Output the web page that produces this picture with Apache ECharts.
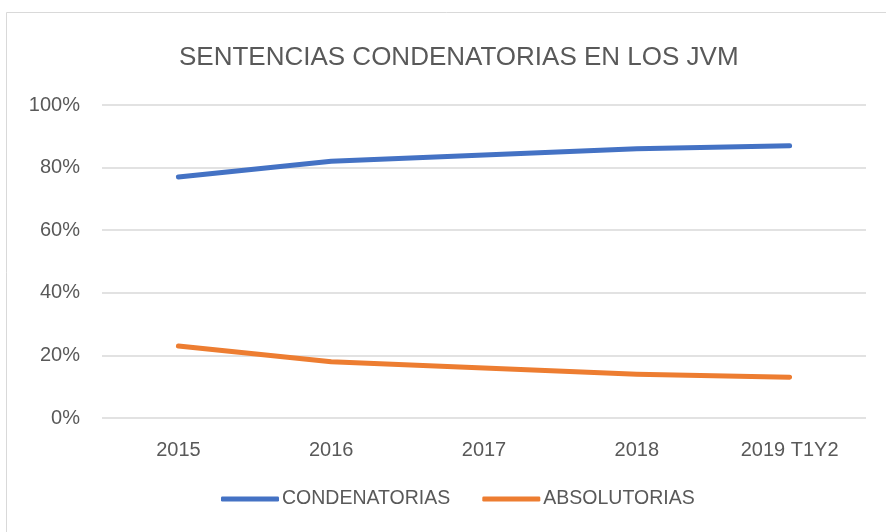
<!DOCTYPE html>
<html>
<head>
<meta charset="utf-8">
<script src="https://cdn.jsdelivr.net/npm/echarts@6/dist/echarts.min.js"></script>
<style>
  html, body { margin: 0; padding: 0; background: #fff; }
  #main { width: 886px; height: 532px; }
</style>
</head>
<body>
<div id="main"></div>
<script>
// datos
const years = ['2015', '2016', '2017', '2018', '2019 T1Y2'];
const condenatorias = [77, 82, 84, 86, 87];
const absolutorias = [23, 18, 16, 14, 13];
const yTicks = [0, 20, 40, 60, 80, 100];

const FONT = '"Liberation Sans", sans-serif';
const grey = '#595959';

const chart = echarts.init(document.getElementById('main'));

const options = {
  animation: false,
  backgroundColor: '#fff',
  textStyle: { fontFamily: FONT },
  title: {
    text: 'SENTENCIAS CONDENATORIAS EN LOS JVM',
    left: 174,
    top: 40,
    textStyle: { color: grey, fontSize: 26, fontWeight: 'normal', fontFamily: FONT }
  },
  graphic: [{
    type: 'rect',
    shape: { x: 6.5, y: 12.5, width: 900, height: 540 },
    style: { fill: 'none', stroke: '#d9d9d9', lineWidth: 1 },
    silent: true
  }],
  legend: {
    bottom: 18,
    left: 216,
    itemWidth: 58,
    itemHeight: 5,
    itemGap: 32,
    icon: 'roundRect',
    textStyle: { color: grey, fontSize: 19.5, fontFamily: FONT, padding: [0, 0, 0, -2] },
    data: ['CONDENATORIAS', 'ABSOLUTORIAS']
  },
  grid: { left: 102, right: 20, top: 105, bottom: 114 },
  xAxis: {
    type: 'category',
    data: years,
    boundaryGap: true,
    axisLine: { show: false },
    axisTick: { show: false },
    axisLabel: { color: grey, fontSize: 20, margin: 22, fontFamily: FONT }
  },
  yAxis: {
    type: 'value',
    min: yTicks[0],
    max: yTicks[yTicks.length - 1],
    interval: 20,
    axisLine: { show: false },
    axisTick: { show: false },
    axisLabel: { color: grey, fontSize: 20, margin: 22, fontFamily: FONT, formatter: '{value}%' },
    splitLine: { lineStyle: { color: '#d9d9d9', width: 1.5 } }
  },
  series: [
    {
      name: 'CONDENATORIAS',
      type: 'line',
      data: condenatorias,
      symbol: 'none',
      color: '#4472C4',
      lineStyle: { width: 5, cap: 'round', join: 'round' }
    },
    {
      name: 'ABSOLUTORIAS',
      type: 'line',
      data: absolutorias,
      symbol: 'none',
      color: '#ED7D31',
      lineStyle: { width: 5, cap: 'round', join: 'round' }
    }
  ]
};

chart.setOption(options);
</script>
</body>
</html>
